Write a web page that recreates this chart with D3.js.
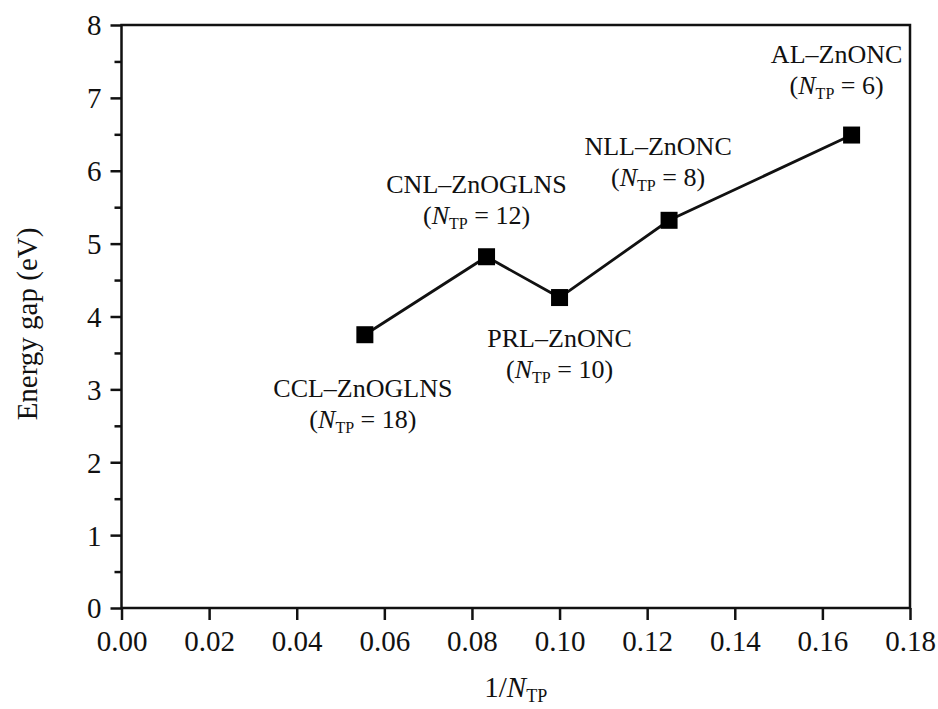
<!DOCTYPE html>
<html>
<head>
<meta charset="utf-8">
<script src="https://cdn.jsdelivr.net/npm/d3@7"></script>
<style>
  body { margin: 0; background: #fff; }
  text { font-family: "Liberation Serif", "DejaVu Serif", serif; fill: #111; }
</style>
</head>
<body>
<script>
// data
var structures = ["CCL\u2013ZnOGLNS", "CNL\u2013ZnOGLNS", "PRL\u2013ZnONC", "NLL\u2013ZnONC", "AL\u2013ZnONC"];
var nTP = [18, 12, 10, 8, 6];
var energyGap = [3.75, 4.82, 4.26, 5.32, 6.49];
var xTicks = [0, 0.02, 0.04, 0.06, 0.08, 0.10, 0.12, 0.14, 0.16, 0.18];
var yTicks = [0, 1, 2, 3, 4, 5, 6, 7, 8];

var width = 938, height = 709;
var margin = {top: 25, right: 28, bottom: 101, left: 121.5};

var svg = d3.select("body").append("svg")
    .attr("width", width)
    .attr("height", height);

var x = d3.scaleLinear().domain([0, 0.18]).range([margin.left, width - margin.right]);
var y = d3.scaleLinear().domain([0, 8]).range([height - margin.bottom, margin.top]);

var points = structures.map(function(s, i) {
  return {name: s, n: nTP[i], x: 1 / nTP[i], y: energyGap[i]};
});

// frame
svg.append("rect")
    .attr("x", x(0)).attr("y", y(8))
    .attr("width", x(0.18) - x(0)).attr("height", y(0) - y(8))
    .attr("fill", "none").attr("stroke", "#111").attr("stroke-width", 2.5);

// y minor ticks
svg.append("g")
    .attr("transform", "translate(" + x(0) + ",0)")
    .call(d3.axisLeft(y).tickValues(d3.range(0.5, 8, 1)).tickSize(7).tickFormat(""))
    .call(function(g) { g.select(".domain").remove(); })
    .selectAll("line").attr("stroke", "#111").attr("stroke-width", 2.5);

// y axis
var yAxis = svg.append("g")
    .attr("transform", "translate(" + x(0) + ",0)")
    .call(d3.axisLeft(y).tickValues(yTicks).tickSize(11).tickPadding(9).tickFormat(d3.format("d")));
yAxis.select(".domain").remove();
yAxis.selectAll("line").attr("stroke", "#111").attr("stroke-width", 2.5);
yAxis.selectAll("text").attr("font-size", 29).attr("font-family", "Liberation Serif").attr("dy", "0.34em");

// x axis
var xAxis = svg.append("g")
    .attr("transform", "translate(0," + y(0) + ")")
    .call(d3.axisBottom(x).tickValues(xTicks).tickSize(12).tickPadding(10).tickFormat(d3.format(".2f")));
xAxis.select(".domain").remove();
xAxis.selectAll("line").attr("stroke", "#111").attr("stroke-width", 2.5);
xAxis.selectAll("text").attr("font-size", 29).attr("font-family", "Liberation Serif");

// axis titles
svg.append("text")
    .attr("transform", "translate(37,324) rotate(-90)")
    .attr("text-anchor", "middle")
    .attr("font-size", 29)
    .text("Energy gap (eV)");

var xt = svg.append("text")
    .attr("x", (x(0) + x(0.18)) / 2)
    .attr("y", 697)
    .attr("text-anchor", "middle")
    .attr("font-size", 29);
xt.append("tspan").text("1/");
xt.append("tspan").attr("font-style", "italic").text("N");
xt.append("tspan").attr("font-size", 18).attr("dy", 5).text("TP");

// line and markers
var line = d3.line().x(function(d) { return x(d.x); }).y(function(d) { return y(d.y); });

svg.append("path")
    .datum(points)
    .attr("d", line)
    .attr("fill", "none")
    .attr("stroke", "#111")
    .attr("stroke-width", 2.8);

var ms = 17;
svg.selectAll("rect.marker")
    .data(points)
    .enter().append("rect")
    .attr("class", "marker")
    .attr("x", function(d) { return x(d.x) - ms / 2; })
    .attr("y", function(d) { return y(d.y) - ms / 2; })
    .attr("width", ms).attr("height", ms)
    .attr("fill", "#000");

// annotation offsets from each point (dx, dy of first line baseline)
var labelOffsets = [[-2, 62], [-10, -64], [0, 49], [-11, -65], [-15, -72]];

var labels = svg.selectAll("g.label")
    .data(points)
    .enter().append("g")
    .attr("class", "label")
    .attr("transform", function(d, i) {
      return "translate(" + (x(d.x) + labelOffsets[i][0]) + "," + (y(d.y) + labelOffsets[i][1]) + ")";
    });

labels.append("text")
    .attr("text-anchor", "middle")
    .attr("font-size", 26)
    .text(function(d) { return d.name; });

var sub = labels.append("text")
    .attr("text-anchor", "middle")
    .attr("y", 31)
    .attr("font-size", 26);
sub.append("tspan").text("(");
sub.append("tspan").attr("font-style", "italic").text("N");
sub.append("tspan").attr("font-size", 16).attr("dy", 5).text("TP");
sub.append("tspan").attr("dy", -5).text(function(d) { return " = " + d.n + ")"; });
</script>
</body>
</html>
